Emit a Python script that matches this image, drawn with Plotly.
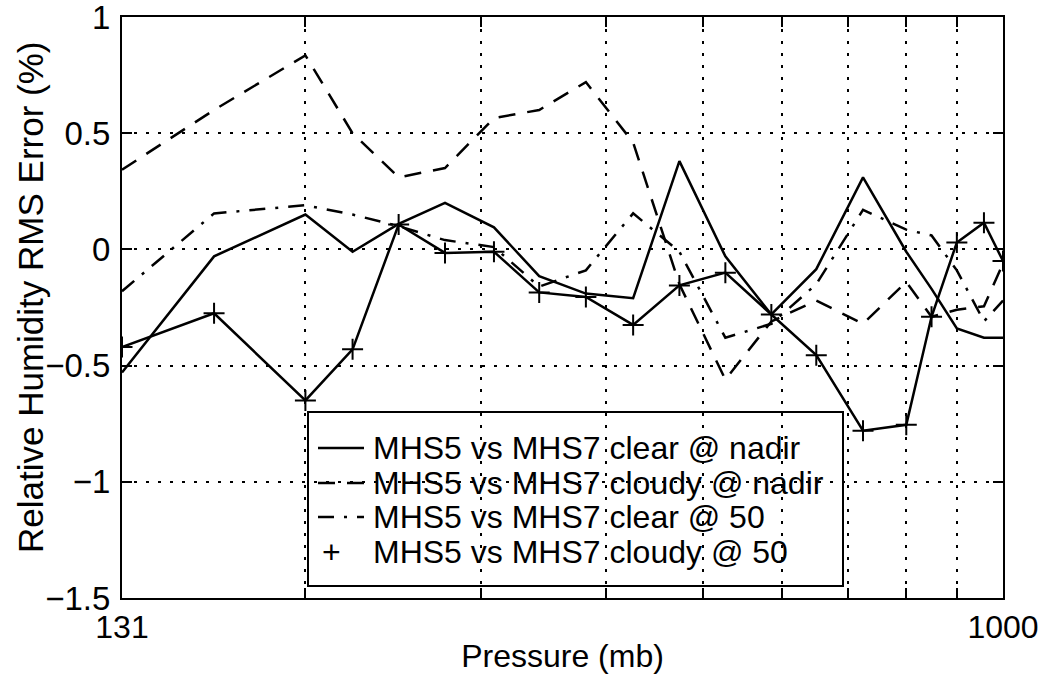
import math
import plotly.graph_objects as go

# Pressure levels (mb)
pressure = [131, 162, 200, 223, 248, 276, 309, 343, 382, 426,
            474, 527, 586, 650, 724, 800, 848, 899, 957, 1000]

# Relative humidity RMS error differences (%)
clear_nadir = [-0.53, -0.03, 0.15, -0.01, 0.11, 0.20, 0.095, -0.115, -0.19, -0.21,
               0.38, -0.03, -0.28, -0.085, 0.31, -0.01, -0.17, -0.34, -0.38, -0.38]
cloudy_nadir = [0.343, 0.60, 0.835, 0.50, 0.31, 0.35, 0.565, 0.60, 0.72, 0.46,
                -0.15, -0.56, -0.31, -0.22, -0.32, -0.14, -0.29, -0.26, -0.245, -0.06]
clear_50 = [-0.18, 0.155, 0.19, 0.15, 0.10, 0.04, 0.01, -0.16, -0.09, 0.155,
            -0.01, -0.38, -0.32, -0.15, 0.17, 0.085, 0.06, -0.09, -0.31, -0.22]
cloudy_50 = [-0.42, -0.275, -0.65, -0.43, 0.107, -0.015, -0.01, -0.185, -0.205, -0.325,
             -0.155, -0.10, -0.28, -0.455, -0.78, -0.755, -0.29, 0.03, 0.115, -0.05]

series_names = ["MHS5 vs MHS7 clear @ nadir",
                "MHS5 vs MHS7 cloudy @ nadir",
                "MHS5 vs MHS7 clear @ 50",
                "MHS5 vs MHS7 cloudy @ 50"]

x_tickvals = [131, 200, 300, 400, 500, 600, 700, 800, 900, 1000]
x_ticktext = ["131", "", "", "", "", "", "", "", "", "1000"]
y_tickvals = [-1.5, -1, -0.5, 0, 0.5, 1]
y_ticktext = ["\u22121.5", "\u22121", "\u22120.5", "0", "0.5", "1"]

FONT = "Liberation Sans, Arial, Helvetica, sans-serif"
LW = 2.5
DASH = "17px,12px"
DASHDOT = "16px,10px,3px,10px"

fig = go.Figure()
fig.add_trace(go.Scatter(x=pressure, y=clear_nadir, mode="lines", name=series_names[0],
                         line=dict(color="black", width=LW)))
fig.add_trace(go.Scatter(x=pressure, y=cloudy_nadir, mode="lines", name=series_names[1],
                         line=dict(color="black", width=LW, dash=DASH)))
fig.add_trace(go.Scatter(x=pressure, y=clear_50, mode="lines", name=series_names[2],
                         line=dict(color="black", width=LW, dash=DASHDOT)))
fig.add_trace(go.Scatter(x=pressure, y=cloudy_50, mode="lines+markers", name=series_names[3],
                         line=dict(color="black", width=LW),
                         marker=dict(symbol="cross-thin", size=15, color="black",
                                     line=dict(color="black", width=2))))

axis_common = dict(
    showline=True, linewidth=2, linecolor="black", mirror="ticks",
    ticks="inside", ticklen=10, tickwidth=2, tickcolor="black",
    showgrid=True, gridcolor="black", gridwidth=2, griddash="3px,9px",
    zeroline=False, automargin=False, ticklabeloverflow="allow",
)

fig.update_xaxes(type="log", range=[math.log10(131), math.log10(1000)],
                 tickmode="array", tickvals=x_tickvals, ticktext=x_ticktext,
                 tickfont=dict(family=FONT, size=32, color="black"),
                 title=dict(text="Pressure (mb)", font=dict(family=FONT, size=32, color="black"),
                            standoff=0),
                 **axis_common)
fig.update_yaxes(range=[-1.5, 1.0], tickmode="array", tickvals=y_tickvals, ticktext=y_ticktext,
                 tickfont=dict(family=FONT, size=33, color="black"),
                 ticklabelstandoff=3,
                 **axis_common)

# plot-area geometry (px) used to place the legend and y title in paper units
L, R, T, B = 122, 1003, 17, 598
PW, PH = R - L, B - T
def px(xp):
    return (xp - L) / PW
def py(yp):
    return (B - yp) / PH

annotations = [
    dict(text="Relative Humidity RMS Error (%)", xref="paper", yref="paper",
         x=px(30), y=py(298), textangle=-90, showarrow=False,
         xanchor="center", yanchor="middle",
         font=dict(family=FONT, size=35, color="black")),
]
shapes = [
    dict(type="rect", xref="paper", yref="paper", x0=px(308), x1=px(843), y0=py(586), y1=py(412),
         line=dict(color="black", width=2), fillcolor="rgba(0,0,0,0)", layer="above"),
]

row_y = [448, 483, 517, 552]
sample_dash = ["solid", DASH, DASHDOT, None]
for name, ry, dsh in zip(series_names, row_y, sample_dash):
    annotations.append(dict(text=name, xref="paper", yref="paper", x=px(371), y=py(ry),
                            showarrow=False, xanchor="left", yanchor="middle",
                            font=dict(family=FONT, size=32, color="black")))
    if dsh is None:
        annotations.append(dict(text="+", xref="paper", yref="paper", x=px(331), y=py(ry),
                                showarrow=False, xanchor="center", yanchor="middle",
                                font=dict(family=FONT, size=32, color="black")))
    else:
        shapes.append(dict(type="line", xref="paper", yref="paper",
                           x0=px(318), x1=px(364), y0=py(ry), y1=py(ry),
                           line=dict(color="black", width=LW, dash=dsh), layer="above"))

fig.update_layout(
    width=1040, height=685,
    margin=dict(l=L, r=1040 - R, t=T, b=685 - B),
    paper_bgcolor="white", plot_bgcolor="white",
    font=dict(family=FONT, size=32, color="black"),
    showlegend=False,
    annotations=annotations,
    shapes=shapes,
)

fig.write_html("out.html")
